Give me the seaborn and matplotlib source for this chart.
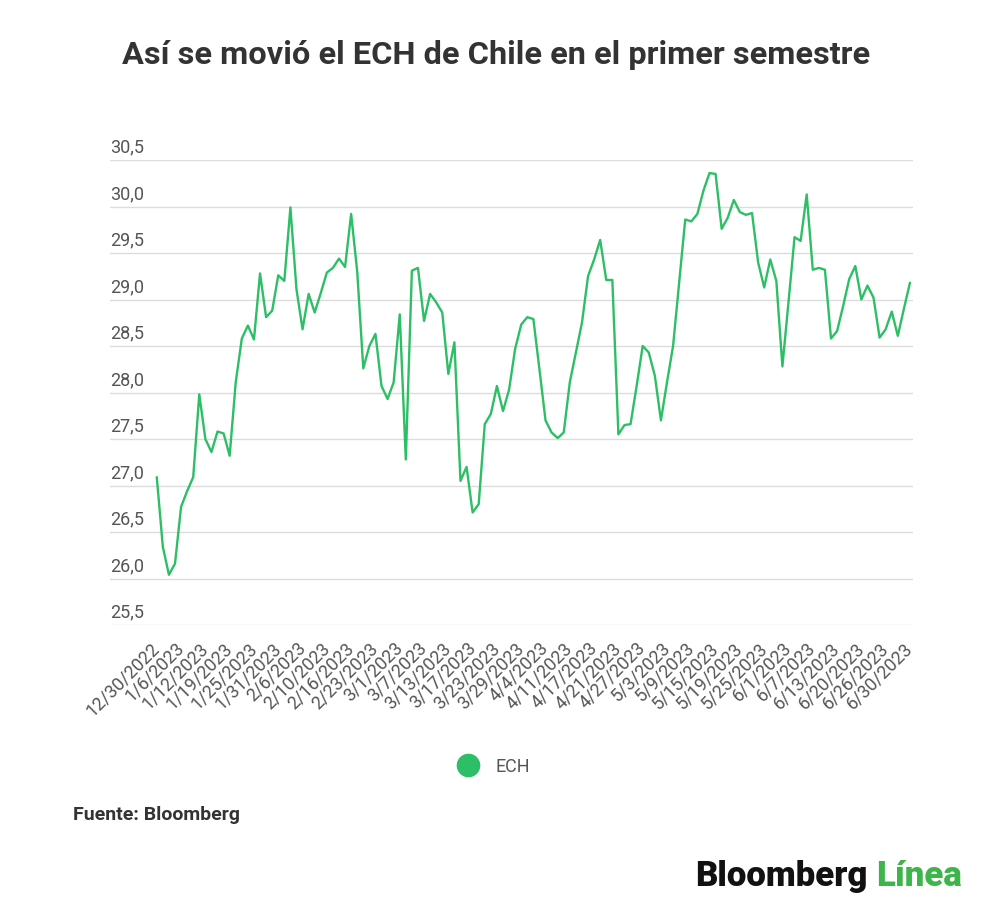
import numpy as np
import pandas as pd
import matplotlib
matplotlib.use("Agg")
import matplotlib.pyplot as plt
from matplotlib.lines import Line2D
import seaborn as sns

# ECH daily close, 12/30/2022 - 6/30/2023 (NYSE trading days)
market_holidays = ["2023-01-02", "2023-01-16", "2023-02-20", "2023-04-07", "2023-05-29", "2023-06-19"]
ech_close = [
    27.09, 26.34, 26.04, 26.16, 26.77, 26.94, 27.09, 27.98, 27.50, 27.36,
    27.58, 27.56, 27.32, 28.11, 28.58, 28.72, 28.57, 29.28, 28.81, 28.88,
    29.26, 29.20, 29.99, 29.11, 28.68, 29.06, 28.86, 29.07, 29.29, 29.34,
    29.44, 29.35, 29.92, 29.30, 28.26, 28.50, 28.63, 28.07, 27.93, 28.11,
    28.84, 27.28, 29.31, 29.34, 28.77, 29.06, 28.97, 28.86, 28.20, 28.54,
    27.05, 27.20, 26.71, 26.80, 27.66, 27.77, 28.07, 27.80, 28.03, 28.47,
    28.73, 28.81, 28.79, 28.25, 27.70, 27.57, 27.51, 27.57, 28.11, 28.43,
    28.75, 29.25, 29.43, 29.64, 29.21, 29.21, 27.55, 27.65, 27.66, 28.07,
    28.50, 28.43, 28.18, 27.70, 28.11, 28.50, 29.18, 29.86, 29.84, 29.92,
    30.17, 30.36, 30.35, 29.76, 29.88, 30.07, 29.94, 29.91, 29.93, 29.40,
    29.13, 29.43, 29.20, 28.28, 28.97, 29.67, 29.63, 30.13, 29.32, 29.34,
    29.32, 28.58, 28.66, 28.93, 29.22, 29.36, 29.00, 29.15, 29.02, 28.59,
    28.68, 28.87, 28.61, 28.90, 29.18,
]
y_ticks = [25.5, 26.0, 26.5, 27.0, 27.5, 28.0, 28.5, 29.0, 29.5, 30.0, 30.5]
label_every = 4

title = "Así se movió el ECH de Chile en el primer semestre"
source = "Fuente: Bloomberg"
series_name = "ECH"

green = "#2dbf66"
text_dark = "#333333"
text_mid = "#555555"

dates = pd.bdate_range("2022-12-30", "2023-06-30")
dates = dates[~dates.isin(pd.to_datetime(market_holidays))]
df = pd.DataFrame({"fecha": dates, "pos": np.arange(len(dates)), "ECH": ech_close})

sns.set_style("white")
plt.rcParams["font.family"] = ["Roboto", "DejaVu Sans"]

fig = plt.figure(figsize=(10, 9.2), dpi=100)
ax = fig.add_axes([0.11, 1 - 626 / 920, 0.803, (626 - 161) / 920])

sns.lineplot(data=df, x="pos", y="ECH", ax=ax, color=green, lw=1.7, legend=False)

ax.set_ylim(y_ticks[0], y_ticks[-1])
ax.set_xlim(-7.7, len(df) - 0.5)
ax.set_yticks(y_ticks)
ax.set_yticklabels([])
ax.grid(axis="y", color="#dcdcdc", lw=1)
ax.grid(axis="x", visible=False)
ax.tick_params(length=0)
sns.despine(ax=ax, left=True, bottom=True)
ax.set_xlabel("")
ax.set_ylabel("")

for v in y_ticks:
    ax.annotate(f"{v:.1f}".replace(".", ","), xy=(0, v), xycoords=("axes fraction", "data"),
                xytext=(0, 3), textcoords="offset points", ha="left", va="bottom",
                fontsize=13, color=text_mid)

tick_pos = df["pos"][::label_every]
tick_lab = [f"{d.month}/{d.day}/{d.year}" for d in df["fecha"][::label_every]]
ax.set_xticks(tick_pos)
ax.set_xticklabels(tick_lab, rotation=45, ha="right", va="center", rotation_mode="anchor",
                   fontsize=13, color=text_mid)
ax.tick_params(axis="x", pad=14)

fig.text(0.496, 1 - 55 / 920, title, ha="center", va="center", fontsize=23.4,
         fontweight="bold", color=text_dark)

handle = Line2D([], [], marker="o", ls="", color=green, markersize=16)
fig.legend(handles=[handle], labels=[series_name], loc="center", bbox_to_anchor=(0.49, 1 - 767 / 920),
           frameon=False, fontsize=13, handletextpad=0.5, labelcolor=text_mid)

fig.text(0.073, 1 - 815 / 920, source, ha="left", va="center", fontsize=14,
         fontweight="bold", color=text_dark)

fig.text(0.695, 1 - 877 / 920, "Bloomberg", ha="left", va="center", fontsize=25,
         fontweight="heavy", color="#111111")
fig.text(0.876, 1 - 877 / 920, "Línea", ha="left", va="center", fontsize=25,
         fontweight="heavy", color="#3db54a")

fig.savefig("out.png", dpi=100, facecolor="white")
